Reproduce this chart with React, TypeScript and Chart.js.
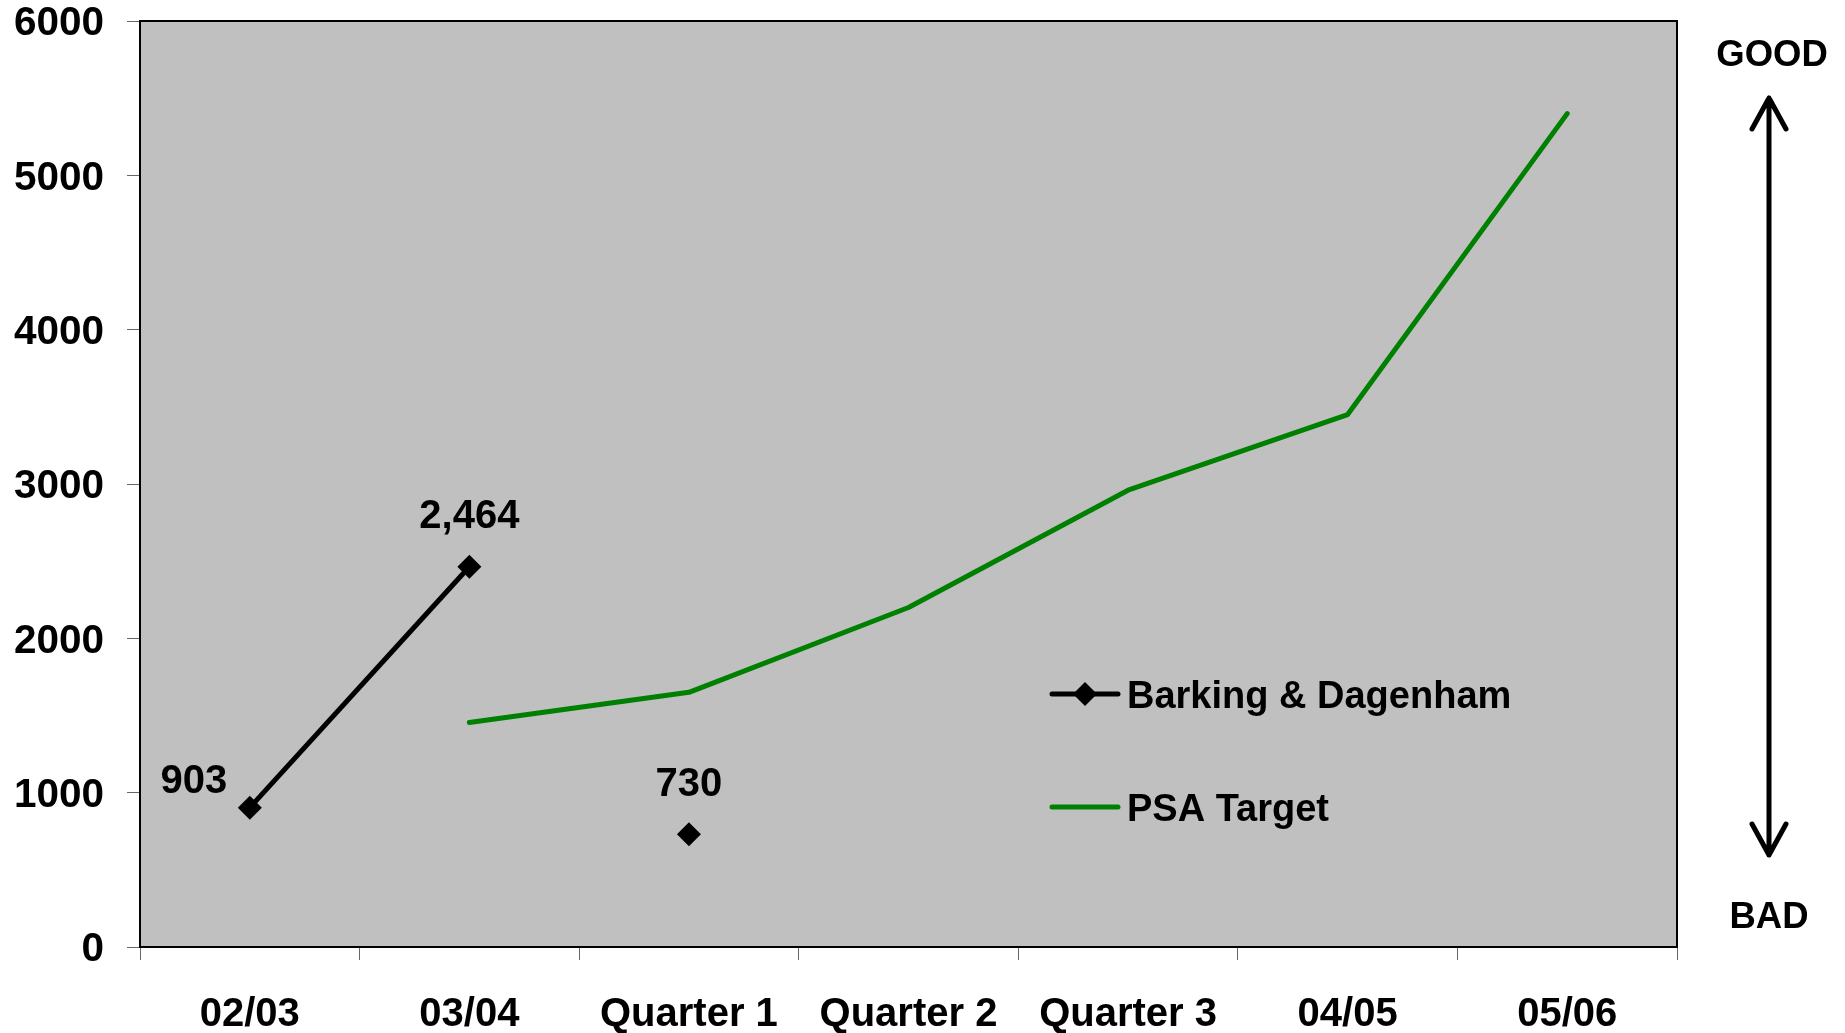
import React, { useEffect, useRef } from 'react';
import { Chart, registerables } from 'chart.js';

Chart.register(...registerables);

// ---- Data ----
const categories = ['02/03', '03/04', 'Quarter 1', 'Quarter 2', 'Quarter 3', '04/05', '05/06'];
const barkingValues: (number | null)[] = [903, 2464, 730, null, null, null, null];
// whether the Barking line joins point i to point i+1
const barkingJoined = [true, false, false, false, false, false];
const psaTargetValues: (number | null)[] = [null, 1455, 1650, 2200, 2960, 3450, 5400];
const seriesNames = ['Barking & Dagenham', 'PSA Target'];
const yMin = 0;
const yMax = 6000;
const yStep = 1000;
const directionLabels = ['GOOD', 'BAD'];
// label placement for Barking values (style only)
const labelPlacement = ['left', 'above', 'above'];

const FONT = '"Liberation Sans", Arial, Helvetica, sans-serif';
const PLOT_BG = '#C0C0C0';
const GREEN = '#008000';

function drawDiamond(ctx: CanvasRenderingContext2D, x: number, y: number, r: number) {
  ctx.beginPath();
  ctx.moveTo(x, y - r);
  ctx.lineTo(x + r, y);
  ctx.lineTo(x, y + r);
  ctx.lineTo(x - r, y);
  ctx.closePath();
  ctx.fill();
}

const decorPlugin = {
  id: 'decor',
  beforeDraw(chart: any) {
    const { ctx, chartArea } = chart;
    ctx.save();
    ctx.fillStyle = '#ffffff';
    ctx.fillRect(0, 0, chart.width, chart.height);
    ctx.fillStyle = PLOT_BG;
    ctx.fillRect(chartArea.left, chartArea.top, chartArea.right - chartArea.left, chartArea.bottom - chartArea.top);
    ctx.restore();
  },
  afterDraw(chart: any) {
    const { ctx, chartArea } = chart;
    ctx.save();
    // plot border
    ctx.strokeStyle = '#000';
    ctx.lineWidth = 2;
    ctx.strokeRect(chartArea.left, chartArea.top, chartArea.right - chartArea.left, chartArea.bottom - chartArea.top);

    // data labels for Barking & Dagenham
    const meta = chart.getDatasetMeta(0);
    ctx.fillStyle = '#000';
    ctx.font = `bold 40px ${FONT}`;
    ctx.textAlign = 'center';
    ctx.textBaseline = 'alphabetic';
    let k = 0;
    barkingValues.forEach((v, i) => {
      if (v == null) return;
      const pt = meta.data[i];
      const place = labelPlacement[k++] || 'above';
      const text = v.toLocaleString('en-GB');
      let cx = pt.x;
      let cy = pt.y - 53;
      if (place === 'left') {
        cx = pt.x - 56;
        cy = pt.y - 29;
      }
      ctx.fillText(text, cx, cy + 14.3);
    });

    // legend (inside plot)
    const lx0 = 1052;
    const lx1 = 1118;
    const ly = [694, 807];
    ctx.lineCap = 'round';
    ctx.lineWidth = 5;
    ctx.strokeStyle = '#000';
    ctx.beginPath();
    ctx.moveTo(lx0, ly[0]);
    ctx.lineTo(lx1, ly[0]);
    ctx.stroke();
    ctx.fillStyle = '#000';
    drawDiamond(ctx, (lx0 + lx1) / 2, ly[0], 12);
    ctx.strokeStyle = GREEN;
    ctx.beginPath();
    ctx.moveTo(lx0, ly[1]);
    ctx.lineTo(lx1, ly[1]);
    ctx.stroke();
    ctx.fillStyle = '#000';
    ctx.font = `bold 38px ${FONT}`;
    ctx.textAlign = 'left';
    ctx.fillText(seriesNames[0], 1127, ly[0] + 0.358 * 38);
    ctx.fillText(seriesNames[1], 1127, ly[1] + 0.358 * 38);

    // GOOD / BAD arrow on the right
    const ax = 1769;
    const aTop = 98;
    const aBot = 855;
    ctx.strokeStyle = '#000';
    ctx.lineWidth = 5;
    ctx.lineCap = 'round';
    ctx.lineJoin = 'round';
    ctx.beginPath();
    ctx.moveTo(ax, aTop);
    ctx.lineTo(ax, aBot);
    ctx.moveTo(ax - 17, aTop + 31);
    ctx.lineTo(ax, aTop);
    ctx.lineTo(ax + 17, aTop + 31);
    ctx.moveTo(ax - 17, aBot - 31);
    ctx.lineTo(ax, aBot);
    ctx.lineTo(ax + 17, aBot - 31);
    ctx.stroke();
    ctx.font = `bold 36.5px ${FONT}`;
    ctx.textAlign = 'center';
    ctx.fillText(directionLabels[0], 1772, 53 + 0.358 * 36.5);
    ctx.fillText(directionLabels[1], 1769, 915 + 0.358 * 36.5);
    ctx.restore();
  },
};

export default function App() {
  const ref = useRef<HTMLCanvasElement | null>(null);
  useEffect(() => {
    if (!ref.current) return;
    const chart = new Chart(ref.current, {
      type: 'line',
      data: {
        labels: categories,
        datasets: [
          {
            label: seriesNames[0],
            data: barkingValues,
            borderColor: '#000',
            backgroundColor: '#000',
            borderWidth: 5,
            pointStyle: 'rectRot',
            pointRadius: 12,
            pointBorderWidth: 0,
            pointBackgroundColor: '#000',
            spanGaps: false,
            tension: 0,
            segment: {
              borderColor: (c: any) => (barkingJoined[c.p0DataIndex] ? '#000' : 'rgba(0,0,0,0)'),
            },
          },
          {
            label: seriesNames[1],
            data: psaTargetValues,
            borderColor: GREEN,
            backgroundColor: GREEN,
            borderWidth: 5,
            pointRadius: 0,
            borderCapStyle: 'round',
            borderJoinStyle: 'round',
            spanGaps: false,
            tension: 0,
          },
        ],
      },
      options: {
        responsive: false,
        animation: false,
        devicePixelRatio: 1,
        layout: { padding: { top: 21, right: 168, left: 0, bottom: 0 } },
        plugins: { legend: { display: false }, tooltip: { enabled: false } },
        scales: {
          x: {
            type: 'category',
            offset: true,
            border: { display: false },
            grid: { offset: true, drawOnChartArea: false, drawTicks: true, tickLength: 13, color: '#666', lineWidth: 1 },
            ticks: { color: '#000', font: { family: FONT, size: 40, weight: 'bold' }, padding: 31, maxRotation: 0, autoSkip: false },
            afterFit(scale: any) {
              scale.height = 86;
              scale.paddingLeft = 0;
              scale.paddingRight = 0;
            },
          },
          y: {
            min: yMin,
            max: yMax,
            border: { display: false },
            grid: { drawOnChartArea: false, drawTicks: true, tickLength: 13, color: '#666', lineWidth: 1 },
            ticks: {
              stepSize: yStep,
              color: '#000',
              font: { family: FONT, size: 40.5, weight: 'bold' },
              padding: 23,
              labelOffset: 3,
              callback: (v: any) => String(v),
            },
            afterFit(scale: any) {
              scale.width = 140;
              scale.paddingTop = 0;
              scale.paddingBottom = 0;
            },
          },
        },
      },
      plugins: [decorPlugin],
    });
    return () => chart.destroy();
  }, []);
  return (
    <div style={{ position: 'fixed', left: 0, top: 0, width: 1845, height: 1033, background: '#fff' }}>
      <canvas ref={ref} width={1845} height={1033} style={{ display: 'block', width: 1845, height: 1033 }} />
    </div>
  );
}
